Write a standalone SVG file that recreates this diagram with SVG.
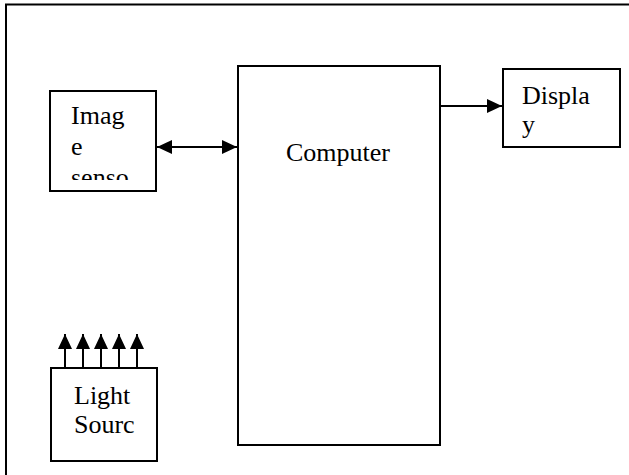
<svg xmlns="http://www.w3.org/2000/svg" width="629" height="475" viewBox="0 0 629 475">
<style>
.box{fill:#fff;stroke:#000;stroke-width:2}
.t{font-family:"Liberation Serif","Times New Roman",serif;font-size:26px;fill:#000}
.c{stroke:#000;stroke-width:2;fill:none}
</style>
<defs>
<marker id="ah" markerUnits="userSpaceOnUse" markerWidth="16" markerHeight="16" viewBox="0 0 16 16" refX="15" refY="8" orient="auto-start-reverse">
<path d="M0,1 L15,8 L0,15 Z" fill="#000"/>
</marker>
<clipPath id="clipImg"><rect x="50" y="91" width="106" height="89"/></clipPath>
</defs>
<rect width="629" height="475" fill="#fff"/>
<rect x="6" y="4.5" width="640" height="490" fill="none" stroke="#000" stroke-width="2"/>
<g id="computer">
<rect class="box" x="238" y="66" width="202" height="379"/>
<text class="t" x="286" y="161">Computer</text>
</g>
<g id="image-sensor">
<rect class="box" x="50" y="91" width="106" height="100"/>
<g clip-path="url(#clipImg)">
<text class="t" x="71" y="124">Imag</text>
<text class="t" x="71" y="155">e</text>
<text class="t" x="71" y="186">senso</text>
</g>
</g>
<g id="display">
<rect class="box" x="503" y="69" width="117" height="78"/>
<text class="t" x="522" y="104">Displa</text>
<text class="t" x="522" y="133">y</text>
</g>
<g id="light-source">
<rect class="box" x="51" y="368" width="106" height="93"/>
<text class="t" x="74" y="404">Light</text>
<text class="t" x="74" y="433">Sourc</text>
</g>
<g id="connectors">
<line class="c" x1="157" y1="147" x2="237" y2="147" marker-start="url(#ah)" marker-end="url(#ah)"/>
<line class="c" x1="440" y1="106" x2="502" y2="106" marker-end="url(#ah)"/>
<line class="c" x1="65" y1="368" x2="65" y2="334" marker-end="url(#ah)"/>
<line class="c" x1="83" y1="368" x2="83" y2="334" marker-end="url(#ah)"/>
<line class="c" x1="101" y1="368" x2="101" y2="334" marker-end="url(#ah)"/>
<line class="c" x1="119" y1="368" x2="119" y2="334" marker-end="url(#ah)"/>
<line class="c" x1="137" y1="368" x2="137" y2="334" marker-end="url(#ah)"/>
</g>
</svg>
